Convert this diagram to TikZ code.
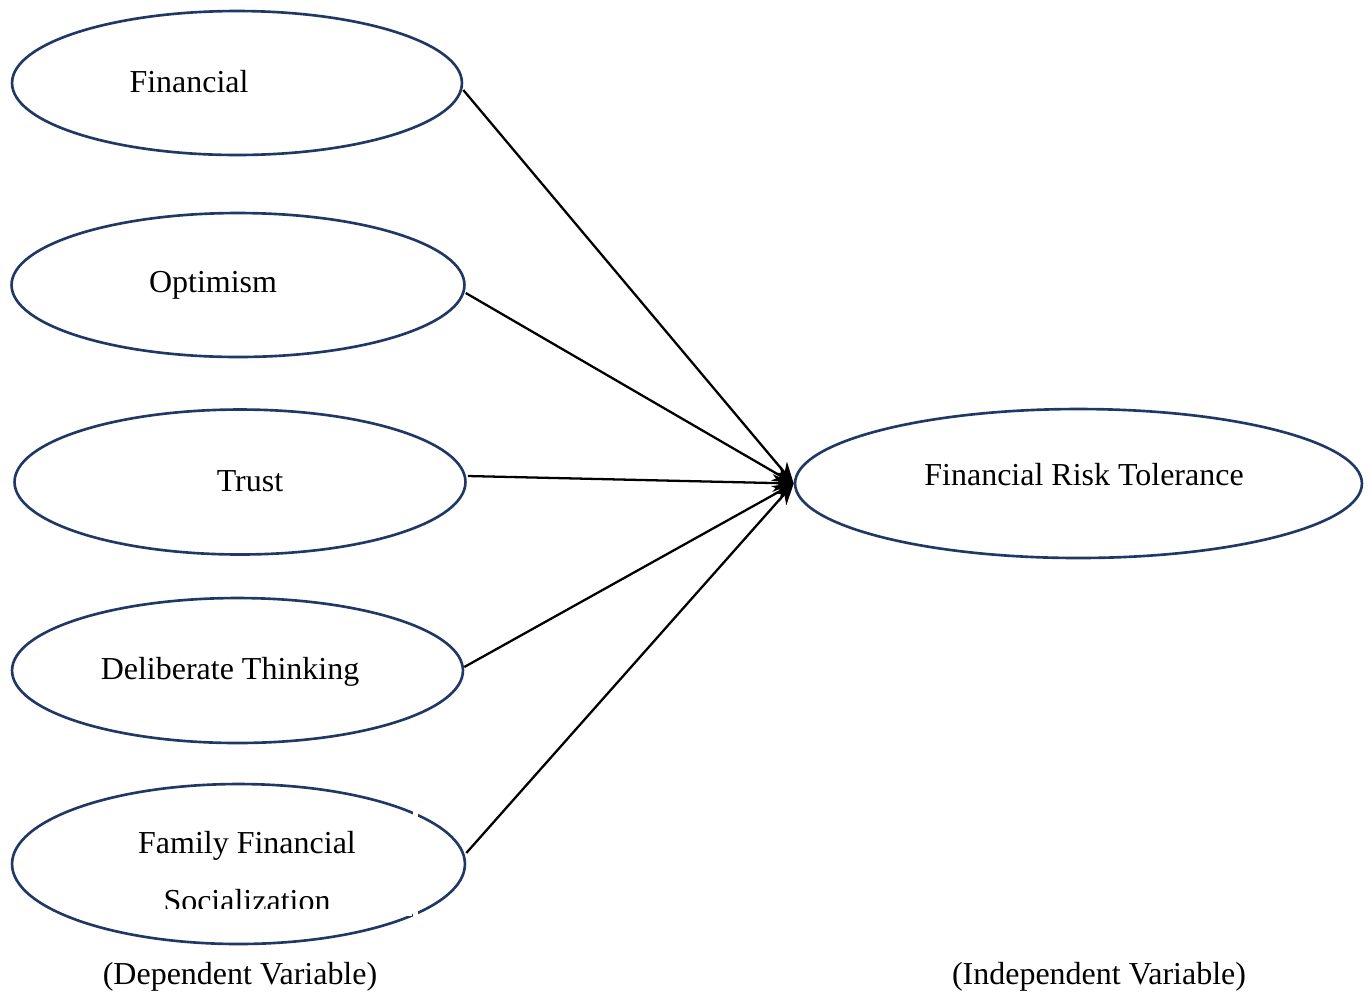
\documentclass[tikz,border=0pt]{standalone}
\usepackage{fontspec}
\setmainfont{Liberation Serif}
\usetikzlibrary{shapes.geometric,arrows.meta}
\definecolor{navy}{HTML}{203864}
\begin{document}
\begin{tikzpicture}[x=0.02cm,y=-0.02cm,
  var/.style={draw=navy,line width=1.5pt,ellipse,inner sep=0pt},
  lbl/.style={font=\fontsize{18.2}{22}\selectfont,inner sep=0pt},
  link/.style={line width=1.3pt,-{Stealth[length=12pt,width=10pt]}}]
\useasboundingbox (0,0) rectangle (1371,992);
% variable ellipses
\node[var,minimum width=9.0cm,minimum height=2.88cm] (fin) at (237,83) {};
\node[var,minimum width=9.06cm,minimum height=2.88cm] (opt) at (238,285) {};
\node[var,minimum width=9.02cm,minimum height=2.9cm] (tru) at (240,482) {};
\node[var,minimum width=9.02cm,minimum height=2.9cm] (del) at (237.5,670.5) {};
\node[var,minimum width=9.06cm,minimum height=3.2cm] (fam) at (238.5,864) {};
\node[var,minimum width=11.34cm,minimum height=2.98cm] (frt) at (1078.5,483.5) {};
% labels
\node[lbl] (tfin) at (189,82) {Financial};
\node[lbl] (topt) at (213,285) {Optimism};
\node[lbl] (ttru) at (250,481) {Trust};
\node[lbl] (tdel) at (230,672) {Deliberate Thinking};
\node[lbl] (tfam1) at (247,846) {Family Financial};
\node[lbl] (tfam2) at (247,901) {Socialization};
\node[lbl] (tfrt) at (1084,475) {Financial Risk Tolerance};
\node[lbl] (tdep) at (240,977) {(Dependent Variable)};
\node[lbl] (tind) at (1099,977) {(Independent Variable)};
% text box edge cutting the lower label and the ellipse outline
\fill[white] (130,909) rectangle (412,916);
\fill[white] (413,808) rectangle (418,818);
\fill[white] (413,911) rectangle (418,921);
% paths into the outcome
\coordinate (hit) at (frt.west);
\draw[link] ([yshift=-0.14cm]fin.east) -- (hit);
\draw[link] ([yshift=-0.16cm]opt.east) -- (hit);
\draw[link] ([yshift=0.12cm,xshift=0.02cm]tru.east) -- (hit);
\draw[link] ([yshift=0.07cm]del.east) -- (hit);
\draw[link] ([yshift=0.22cm]fam.east) -- (hit);
\end{tikzpicture}
\end{document}
